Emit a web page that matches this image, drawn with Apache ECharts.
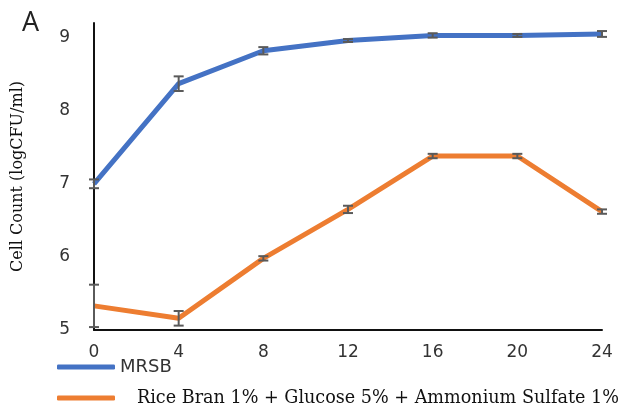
<!DOCTYPE html>
<html><head><meta charset="utf-8">
<script src="https://cdn.jsdelivr.net/npm/echarts@6/dist/echarts.min.js"></script>
<style>html,body{margin:0;padding:0;background:#fff}#c{width:620px;height:405px}</style>
</head><body><div id="c"></div>
<script>
const hours = [0, 4, 8, 12, 16, 20, 24];
const mrsbName = 'MRSB';
const riceName = 'Rice Bran 1% + Glucose 5% + Ammonium Sulfate 1%';
const mrsbValues = [7.0, 8.37, 8.82, 8.96, 9.03, 9.03, 9.05];
const mrsbErr = [0.06, 0.1, 0.05, 0.02, 0.03, 0.02, 0.04];
const riceValues = [5.33, 5.16, 5.98, 6.65, 7.38, 7.38, 6.62];
const riceErr = [0.29, 0.1, 0.03, 0.05, 0.03, 0.03, 0.03];
const yTicks = [5, 6, 7, 8, 9];

const chart = echarts.init(document.getElementById('c'));
function pts(v) { return hours.map((h, i) => [h, v[i]]); }
function errData(v, e) { return hours.map((h, i) => [h, v[i] - e[i], v[i] + e[i]]); }
function errSeries(v, e) {
  return {
    type: 'custom', z: 5, silent: true,
    data: errData(v, e),
    renderItem: function (params, api) {
      const lo = api.coord([api.value(0), api.value(1)]);
      const hi = api.coord([api.value(0), api.value(2)]);
      const w = 5;
      const st = { stroke: '#5a5a5a', lineWidth: 2, fill: null };
      return { type: 'group', children: [
        { type: 'line', shape: { x1: hi[0], y1: hi[1], x2: lo[0], y2: lo[1] }, style: st },
        { type: 'line', shape: { x1: hi[0] - w, y1: hi[1], x2: hi[0] + w, y2: hi[1] }, style: st },
        { type: 'line', shape: { x1: lo[0] - w, y1: lo[1], x2: lo[0] + w, y2: lo[1] }, style: st }
      ]};
    }
  };
}
chart.setOption({
  animation: false,
  title: { text: 'A', left: 17, top: 5, textStyle: { fontFamily: 'Open Sans', fontWeight: 'normal', fontSize: 27, color: '#222' } },
  grid: { left: 94, right: 18, top: 23, bottom: 75 },
  legend: [
    { data: [mrsbName], left: 52, top: 353, orient: 'vertical', itemWidth: 58, itemHeight: 5, icon: 'roundRect',
      textStyle: { fontFamily: 'DejaVu Sans', fontSize: 18, color: '#333' } },
    { data: [riceName], left: 52, top: 384, orient: 'vertical', itemWidth: 58, itemHeight: 5, icon: 'roundRect',
      textStyle: { fontFamily: 'DejaVu Serif', fontSize: 17.6, color: '#111', padding: [0, 0, 11, 17] } }
  ],
  xAxis: {
    type: 'value', min: 0, max: 24, interval: 4,
    axisLine: { lineStyle: { color: '#111', width: 2 } },
    axisTick: { show: false }, splitLine: { show: false },
    axisLabel: { fontFamily: 'DejaVu Sans', fontSize: 17, color: '#333', margin: 14 }
  },
  yAxis: {
    type: 'value', min: 5, max: 9.2, interval: 1,
    name: 'Cell Count (logCFU/ml)', nameLocation: 'middle', nameGap: 68,
    nameTextStyle: { fontFamily: 'DejaVu Serif', fontSize: 16, color: '#111' },
    axisLine: { show: true, lineStyle: { color: '#111', width: 2 } },
    axisTick: { show: false }, splitLine: { show: false },
    axisLabel: { fontFamily: 'DejaVu Sans', fontSize: 17, color: '#333', margin: 24, showMaxLabel: false,
      formatter: v => yTicks.includes(v) ? String(v) : '' }
  },
  series: [
    { name: mrsbName, type: 'line', data: pts(mrsbValues), symbol: 'none', color: '#4472C4',
      lineStyle: { width: 5, color: '#4472C4' }, z: 3 },
    { name: riceName, type: 'line', data: pts(riceValues), symbol: 'none', color: '#ED7D31',
      lineStyle: { width: 5, color: '#ED7D31' }, z: 3 },
    errSeries(mrsbValues, mrsbErr),
    errSeries(riceValues, riceErr)
  ]
});
</script></body></html>
